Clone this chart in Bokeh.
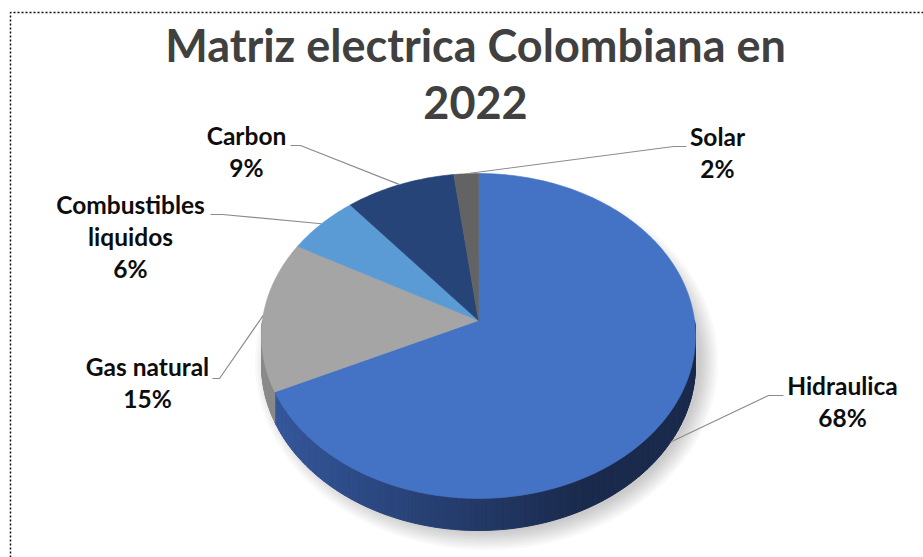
import numpy as np
from bokeh.plotting import figure
from bokeh.models import Range1d
from bokeh.embed import file_html
from bokeh.resources import INLINE
from bokeh.core.properties import value

# ---------------- data ----------------
title_lines = ["Matriz electrica Colombiana en", "2022"]
categories = ["Hidraulica", "Gas natural", "Combustibles liquidos", "Carbon", "Solar"]
shares = [68, 15, 6, 9, 2]
top_colors = ["#4472C4", "#A5A5A5", "#5B9BD5", "#264478", "#636363"]
side_light = ["#35589E", "#8A8A8A", "#4A80B4", "#1F3864", "#505050"]
side_dark = ["#1A2A4C", "#6A6A6A", "#3A6A99", "#162848", "#3E3E3E"]

# ---------------- layout ----------------
W, H_FIG = 923, 557
CX, CY = 478, 320      # pie centre on screen
RA, RB = 216, 161      # ellipse semi axes of the top face
DEPTH = 10.5           # perspective distance
THICK = 29             # pie thickness
FONT = "Lato"
LABEL_SIZE = 24.5
TITLE_SIZE = 45

# label anchors: centre x, baseline of first line, name lines, elbow point, end point
label_layout = {
    "Hidraulica": (842, 396, ["Hidraulica"], (768, 395), (783, 395)),
    "Gas natural": (147, 377, ["Gas natural"], (219, 378), (212, 378)),
    "Combustibles liquidos": (130, 215, ["Combustibles", "liquidos"], (222, 214), (210, 214)),
    "Carbon": (246, 146, ["Carbon"], (300, 145), (290, 145)),
    "Solar": (717, 147, ["Solar"], (673, 146), (686, 146)),
}
BASELINE_FIX = 0.44  # renderer places alphabetic baseline lower by this many ems


def proj(phi_deg, drop=0.0):
    phi = np.radians(phi_deg)
    z = -np.cos(phi)
    s = DEPTH / (DEPTH - z)
    x = CX + RA * np.sin(phi) * s
    y = CY + RB * z * s + drop * s
    return x, y, z


def lerp_color(c1, c2, t):
    a = [int(c1[i:i + 2], 16) for i in (1, 3, 5)]
    b = [int(c2[i:i + 2], 16) for i in (1, 3, 5)]
    c = [round(a[k] + (b[k] - a[k]) * t) for k in range(3)]
    return "#%02x%02x%02x" % tuple(c)


p = figure(width=W, height=H_FIG, output_backend="svg", toolbar_location=None,
           x_range=Range1d(0, W), y_range=Range1d(H_FIG, 0),
           min_border=0, min_border_left=0, min_border_right=0,
           min_border_top=0, min_border_bottom=0)
p.axis.visible = False
p.grid.visible = False
p.outline_line_color = None
p.background_fill_color = "white"
p.border_fill_color = "white"

# dotted chart-area border (right and bottom edges lie outside the window)
p.line(x=[10, 10, W + 20], y=[H_FIG + 20, 12, 12], line_color="#111111",
       line_width=1.5, line_dash="2 2")

# soft shadow
for k in range(9):
    p.ellipse(x=CX + 8, y=CY + 42, width=2 * (RA - 2 + 2.2 * k),
              height=2 * (RB + 9 + 2.2 * k), fill_color="#000000",
              fill_alpha=0.022, line_color=None)

total = float(sum(shares))
starts = np.cumsum([0] + shares[:-1]) / total * 360.0
ends = np.cumsum(shares) / total * 360.0

# sides (visible front half)
side_xs, side_ys, side_cols = [], [], []
for i in range(len(categories)):
    a, b = max(starts[i], 90.0), min(ends[i], 270.0)
    if b <= a:
        continue
    n = max(2, int((b - a) / 1.0))
    grid = np.linspace(a, b, n + 1)
    for k in range(n):
        p0, p1 = grid[k], grid[k + 1]
        x0, y0, _ = proj(p0)
        x1, y1, _ = proj(p1)
        x2, y2, _ = proj(p1, THICK)
        x3, y3, _ = proj(p0, THICK)
        t = (RA - ((x0 + x1) / 2 - CX)) / (2 * RA)
        t = 1 - np.clip(t, 0, 1)
        col = lerp_color(side_light[i], side_dark[i], float(np.clip(t * 1.35, 0, 1)))
        side_xs.append([x0, x1, x2, x3])
        side_ys.append([y0, y1, y2, y3])
        side_cols.append(col)
p.patches(xs=side_xs, ys=side_ys, fill_color=side_cols, line_color=side_cols,
          line_width=1.0)

# top faces
top_xs, top_ys = [], []
for i in range(len(categories)):
    grid = np.linspace(starts[i], ends[i], max(3, int(ends[i] - starts[i]) + 2))
    xs, ys, _ = proj(grid)
    top_xs.append([CX] + list(xs))
    top_ys.append([CY] + list(ys))
p.patches(xs=top_xs, ys=top_ys, fill_color=top_colors, line_color=top_colors,
          line_width=0.6)

# leader lines
lx, ly = [], []
for i, cat in enumerate(categories):
    mid = (starts[i] + ends[i]) / 2
    x, y, z = proj(mid)
    if z > 0:
        x, y, _ = proj(mid, THICK)
    _, _, _, elbow, end = label_layout[cat]
    lx.append([float(x), elbow[0], end[0]])
    ly.append([float(y), elbow[1], end[1]])
p.multi_line(xs=lx, ys=ly, line_color="#8C8C8C", line_width=1.2)

# labels
tx, ty, tt = [], [], []
for i, cat in enumerate(categories):
    cx, base, lines, _, _ = label_layout[cat]
    all_lines = lines + ["%d%%" % shares[i]]
    for j, s in enumerate(all_lines):
        tx.append(cx)
        ty.append(base + 32 * j - BASELINE_FIX * LABEL_SIZE)
        tt.append(s)
p.text(x=tx, y=ty, text=tt, text_font=value(FONT), text_font_style="bold",
       text_font_size="%gpx" % LABEL_SIZE, text_align="center",
       text_baseline="alphabetic", text_color="#0D0D0D")

# title
p.text(x=[475, 475], y=[64 - BASELINE_FIX * TITLE_SIZE, 122 - BASELINE_FIX * TITLE_SIZE],
       text=title_lines, text_font=value(FONT),
       text_font_style="bold", text_font_size="%gpx" % TITLE_SIZE, text_align="center",
       text_baseline="alphabetic", text_color="#404040")

open("out.html", "w").write(file_html(p, INLINE))
